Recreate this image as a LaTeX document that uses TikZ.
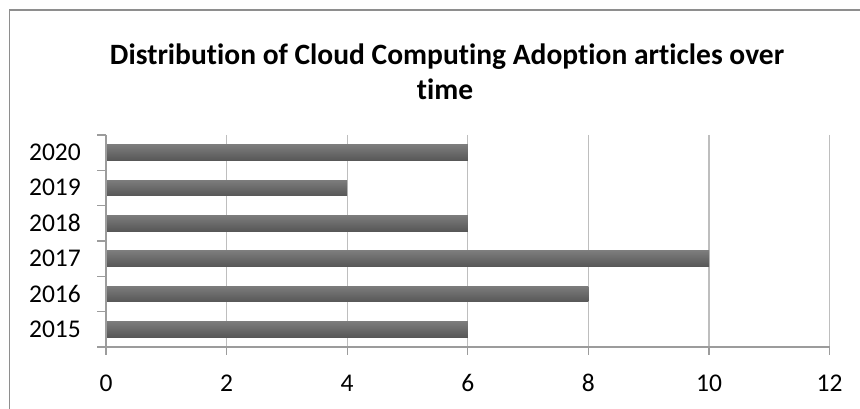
\documentclass[tikz,border=0pt]{standalone}
\usepackage{fontspec}
\setmainfont{Carlito}[Ligatures={NoCommon}]

\definecolor{framegray}{HTML}{8E8E8E}
\definecolor{gridgray}{HTML}{BEBEBE}
\definecolor{axisgray}{HTML}{9C9C9C}
\definecolor{bartop}{HTML}{7C7C7C}
\definecolor{barbottom}{HTML}{575757}

\tikzset{
	gridline/.style = {draw=gridgray, line width=1.3pt},
	axisline/.style = {draw=axisgray, line width=1.3pt},
	bar/.style = {top color=bartop, bottom color=barbottom},
	yearlabel/.style = {anchor = base east, inner sep=0pt,
		font=\fontsize{25.5}{30}\selectfont},
	valuelabel/.style = {anchor = base, inner sep=0pt,
		font=\fontsize{25.5}{30}\selectfont},
	titletext/.style = {anchor = base, inner sep=0pt,
		font=\fontsize{29.5}{35}\selectfont\bfseries}
}

\begin{document}
\begin{tikzpicture}[x=1pt,y=-1pt]
		\useasboundingbox (0,0) rectangle (860,409);
		\draw[framegray, line width=1.5pt] (9.5,409) -- (9.5,10) -- (860,10);
		
		\node[titletext] (title1) at (447,65)
			{Distribution of Cloud Computing Adoption articles over};
		\node[titletext] (title2) at (445,100) {time};
		
		% grid
		\draw[gridline] (226.6,135) -- (226.6,347);
		\draw[gridline] (347.2,135) -- (347.2,347);
		\draw[gridline] (467.8,135) -- (467.8,347);
		\draw[gridline] (588.4,135) -- (588.4,347);
		\draw[gridline] (709,135) -- (709,347);
		\draw[gridline] (829.6,135) -- (829.6,347);
		
		% bars
		\shade[bar] (106,144.9) rectangle (467.8,160.5);
		\shade[bar] (106,180.2) rectangle (347.2,195.8);
		\shade[bar] (106,215.5) rectangle (467.8,231.1);
		\shade[bar] (106,250.9) rectangle (709,266.5);
		\shade[bar] (106,286.2) rectangle (588.4,301.8);
		\shade[bar] (106,321.5) rectangle (467.8,337.1);
		
		% axes
		\draw[axisline] (106,135) -- (106,355);
		\draw[axisline] (97,347) -- (829.6,347);
		
		\draw[axisline] (97,135) -- (106,135);
		\draw[axisline] (97,170.3) -- (106,170.3);
		\draw[axisline] (97,205.7) -- (106,205.7);
		\draw[axisline] (97,241) -- (106,241);
		\draw[axisline] (97,276.3) -- (106,276.3);
		\draw[axisline] (97,311.7) -- (106,311.7);
		
		\draw[axisline] (226.6,347) -- (226.6,355);
		\draw[axisline] (347.2,347) -- (347.2,355);
		\draw[axisline] (467.8,347) -- (467.8,355);
		\draw[axisline] (588.4,347) -- (588.4,355);
		\draw[axisline] (709,347) -- (709,355);
		\draw[axisline] (829.6,347) -- (829.6,355);
		
		\node[yearlabel] (y2020) at (81,160.7) {2020};
		\node[yearlabel] (y2019) at (81,196) {2019};
		\node[yearlabel] (y2018) at (81,231.3) {2018};
		\node[yearlabel] (y2017) at (81,266.7) {2017};
		\node[yearlabel] (y2016) at (81,302) {2016};
		\node[yearlabel] (y2015) at (81,337.3) {2015};
		
		\node[valuelabel] (v0) at (106,391) {0};
		\node[valuelabel] (v2) at (226.6,391) {2};
		\node[valuelabel] (v4) at (347.2,391) {4};
		\node[valuelabel] (v6) at (467.8,391) {6};
		\node[valuelabel] (v8) at (588.4,391) {8};
		\node[valuelabel] (v10) at (709,391) {10};
		\node[valuelabel] (v12) at (829.6,391) {12};
	\end{tikzpicture}
\end{document}
